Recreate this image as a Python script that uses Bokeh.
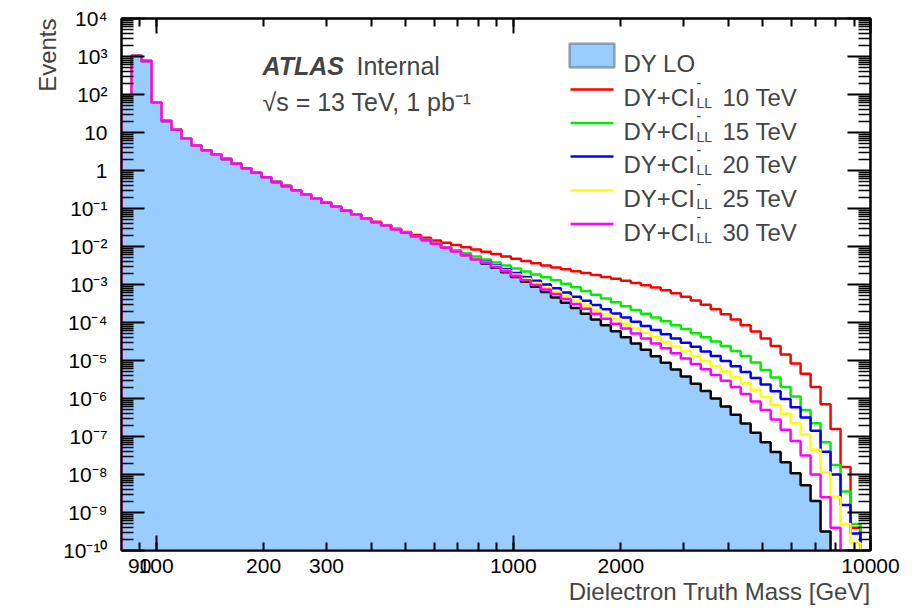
import math
import numpy as np
from bokeh.plotting import figure
from bokeh.models import (Range1d, FixedTicker, CustomJSTickFormatter, LogAxis,
                          Label, BoxAnnotation, Title)
from bokeh.embed import file_html
from bokeh.resources import INLINE

# ---------------- data ----------------
X_MIN, X_MAX = 80, 10000          # GeV, histogram range
N_BINS = 75                        # log-spaced bins
bin_edges = np.logspace(math.log10(X_MIN), math.log10(X_MAX), N_BINS + 1)

# log10(events per bin), DY LO (bins 0..70; empty beyond)
dy_lo_log10 = [
    1.95, 3.02, 2.88, 1.79, 1.30, 1.07, 0.84, 0.66, 0.53, 0.42,
    0.30, 0.18, 0.06, -0.06, -0.18, -0.30, -0.41, -0.52, -0.63, -0.74,
    -0.85, -0.95, -1.06, -1.16, -1.26, -1.36, -1.45, -1.55, -1.64, -1.74,
    -1.83, -1.93, -2.03, -2.13, -2.23, -2.34, -2.45, -2.56, -2.68, -2.80,
    -2.93, -3.06, -3.20, -3.34, -3.48, -3.62, -3.77, -3.92, -4.07, -4.23,
    -4.39, -4.55, -4.72, -4.89, -5.06, -5.24, -5.42, -5.61, -5.80, -6.00,
    -6.21, -6.43, -6.66, -6.90, -7.15, -7.41, -7.68, -7.97, -8.28, -8.70,
    -9.50,
]

# DY+CI tails (log10 events), identical to DY below their first bin
ci10_first_bin = 25
ci10_tail_log10 = [
    -1.35, -1.44, -1.53, -1.62, -1.70, -1.77, -1.84, -1.90, -1.96, -2.02,
    -2.08, -2.14, -2.20, -2.26, -2.32, -2.38, -2.44, -2.50, -2.55, -2.60,
    -2.65, -2.70, -2.75, -2.80, -2.85, -2.90, -2.96, -3.02, -3.08, -3.15,
    -3.23, -3.32, -3.42, -3.53, -3.65, -3.78, -3.92, -4.07, -4.24, -4.42,
    -4.62, -4.84, -5.08, -5.35, -5.70, -6.15, -6.80, -7.80, -9.40,
]
ci15_first_bin = 33
ci15_tail_log10 = [
    -2.10, -2.18, -2.26, -2.34, -2.42, -2.50, -2.58, -2.66, -2.74, -2.81,
    -2.89, -2.98, -3.07, -3.17, -3.27, -3.37, -3.47, -3.57, -3.67, -3.77,
    -3.87, -3.97, -4.07, -4.17, -4.28, -4.39, -4.50, -4.62, -4.75, -4.88,
    -5.05, -5.25, -5.45, -5.70, -5.95, -6.30, -6.65, -7.15, -7.75, -8.45,
    -9.30,
]
ci20_first_bin = 36
ci20_tail_log10 = [
    -2.40, -2.50, -2.60, -2.70, -2.80, -2.90, -3.00, -3.10, -3.21, -3.32,
    -3.43, -3.54, -3.65, -3.76, -3.87, -3.98, -4.09, -4.20, -4.31, -4.42,
    -4.53, -4.64, -4.76, -4.88, -5.01, -5.15, -5.30, -5.46, -5.63, -5.81,
    -6.01, -6.23, -6.50, -6.85, -7.40, -8.00, -8.80, -9.55,
]
ci25_first_bin = 36
ci25_tail_log10 = [
    -2.42, -2.52, -2.63, -2.74, -2.85, -2.96, -3.07, -3.19, -3.31, -3.43,
    -3.55, -3.67, -3.79, -3.91, -4.03, -4.15, -4.27, -4.39, -4.51, -4.63,
    -4.75, -4.88, -5.01, -5.15, -5.29, -5.44, -5.60, -5.77, -5.96, -6.17,
    -6.40, -6.65, -6.95, -7.35, -7.95, -8.60, -9.30, -9.80,
]
ci30_first_bin = 36
ci30_tail_log10 = [
    -2.43, -2.54, -2.65, -2.77, -2.89, -3.01, -3.13, -3.25, -3.38, -3.51,
    -3.64, -3.77, -3.90, -4.03, -4.16, -4.29, -4.42, -4.55, -4.68, -4.81,
    -4.95, -5.09, -5.23, -5.38, -5.53, -5.70, -5.88, -6.08, -6.30, -6.55,
    -6.82, -7.12, -7.50, -8.00, -8.60, -9.40,
]

series_names = ["DY LO", "10 TeV", "15 TeV", "20 TeV", "25 TeV", "30 TeV"]
series_colors = ["#000000", "#FF0000", "#00EE00", "#0000FF", "#FFFF00", "#FF00FF"]
fill_color = "#99CCFF"

y_tick_values = [1e-10, 1e-9, 1e-8, 1e-7, 1e-6, 1e-5, 1e-4, 1e-3, 1e-2, 1e-1, 1, 10, 1e2, 1e3, 1e4]
y_tick_labels = ["10⁻¹⁰", "10⁻⁹", "10⁻⁸", "10⁻⁷", "10⁻⁶", "10⁻⁵", "10⁻⁴", "10⁻³",
                 "10⁻²", "10⁻¹", "1", "10", "10²", "10³", "10⁴"]
x_tick_values = [90, 100, 200, 300, 1000, 2000, 10000]
x_tick_labels = ["90", "100", "200", "300", "1000", "2000", "10000"]

# ---------------- build series ----------------
def full_series(first_bin, tail):
    return dy_lo_log10[:first_bin] + tail

log_series = [
    dy_lo_log10,
    full_series(ci10_first_bin, ci10_tail_log10),
    full_series(ci15_first_bin, ci15_tail_log10),
    full_series(ci20_first_bin, ci20_tail_log10),
    full_series(ci25_first_bin, ci25_tail_log10),
    full_series(ci30_first_bin, ci30_tail_log10),
]
events = [[10.0 ** v for v in s] for s in log_series]

FLOOR = 1e-13  # empty bins drop below the axis


def step_path(vals):
    xs, ys = [bin_edges[0]], [FLOOR]
    for i, v in enumerate(vals):
        xs += [bin_edges[i], bin_edges[i + 1]]
        ys += [v, v]
    xs.append(bin_edges[len(vals)])
    ys.append(FLOOR)
    return xs, ys


FONT = "Liberation Sans"

p = figure(x_axis_type="log", y_axis_type="log",
           x_range=Range1d(X_MIN, X_MAX), y_range=Range1d(1e-10, 1e4),
           frame_width=749, frame_height=532,
           min_border_left=121, min_border_right=46,
           min_border_top=18, min_border_bottom=58,
           output_backend="svg", toolbar_location=None,
           background_fill_color="white", border_fill_color="white")
p.xgrid.visible = False
p.ygrid.visible = False
p.outline_line_color = "black"
p.outline_line_width = 2

# ---------------- axes ----------------
x_unlabelled = [k * 100 for k in range(4, 10)] + [k * 1000 for k in range(3, 10)]
x_ticker = FixedTicker(ticks=sorted(x_tick_values + x_unlabelled),
                       minor_ticks=[100, 1000, 10000])
y_ticker = FixedTicker(ticks=y_tick_values,
                       minor_ticks=[k * d for d in y_tick_values[:-1] for k in range(2, 10)])

x_fmt = CustomJSTickFormatter(args=dict(vals=x_tick_values, labs=x_tick_labels), code="""
for (let i = 0; i < vals.length; i++) {
  if (Math.abs(tick - vals[i]) < 1e-6 * vals[i]) return labs[i];
}
return "";
""")
y_fmt = CustomJSTickFormatter(args=dict(vals=y_tick_values, labs=y_tick_labels), code="""
for (let i = 0; i < vals.length; i++) {
  if (Math.abs(Math.log10(tick) - Math.log10(vals[i])) < 1e-6) return labs[i];
}
return "";
""")
blank_fmt = CustomJSTickFormatter(code="return '';")


def style_x(ax, labels=True):
    ax.ticker = x_ticker
    ax.formatter = x_fmt if labels else blank_fmt
    ax.major_tick_in = 8
    ax.major_tick_out = 0
    ax.minor_tick_in = 15
    ax.minor_tick_out = 0
    ax.major_tick_line_width = 2
    ax.minor_tick_line_width = 2
    ax.axis_line_width = 2
    ax.major_label_text_font = FONT
    ax.major_label_text_font_size = "21px"
    ax.major_label_text_color = "black"
    ax.major_label_standoff = 8


def style_y(ax, labels=True):
    ax.ticker = y_ticker
    ax.formatter = y_fmt if labels else blank_fmt
    ax.major_tick_in = 23
    ax.major_tick_out = 0
    ax.minor_tick_in = 12
    ax.minor_tick_out = 0
    ax.major_tick_line_width = 2
    ax.minor_tick_line_width = 1.5
    ax.axis_line_width = 2
    ax.major_label_text_font = FONT
    ax.major_label_text_font_size = "21px"
    ax.major_label_text_color = "black"
    ax.major_label_standoff = 14


style_x(p.xaxis[0])
style_y(p.yaxis[0])
top_ax = LogAxis()
style_x(top_ax, labels=False)
p.add_layout(top_ax, "above")
right_ax = LogAxis()
style_y(right_ax, labels=False)
p.add_layout(right_ax, "right")

# axis titles (ROOT style: aligned to the far end of each axis)
p.add_layout(Title(text="Events", align="right", text_font=FONT, text_font_size="24px",
                   text_font_style="normal", standoff=0, offset=0), "left")
p.add_layout(Title(text="Dielectron Truth Mass [GeV]", align="right", text_font=FONT,
                   text_font_size="24px", text_font_style="normal", standoff=0,
                   offset=0), "below")

# ---------------- histograms ----------------
fx, fy = step_path(events[0])
p.patch(fx, fy, fill_color=fill_color, line_color=None)
for vals, col in zip(events, series_colors):
    xs, ys = step_path(vals)
    p.line(xs, ys, line_color=col, line_width=2.5)

# ---------------- texts (screen units relative to the frame) ----------------
p.add_layout(Label(x=141, y=485, text="ATLAS", x_units="screen", y_units="screen",
                   text_font=FONT, text_font_size="25px", text_font_style="bold italic",
                   text_baseline="alphabetic"))
p.add_layout(Label(x=235, y=485, text="Internal", x_units="screen", y_units="screen",
                   text_font=FONT, text_font_size="25px", text_baseline="alphabetic"))
p.add_layout(Label(x=141, y=449, text="√s = 13 TeV, 1 pb⁻¹", x_units="screen",
                   y_units="screen", text_font=FONT, text_font_size="25px",
                   text_baseline="alphabetic"))

# ---------------- legend ----------------
row_y = [495, 461, 427.5, 394, 360, 326.5]   # row centres (screen units)
box_l, box_r = 448, 493
text_x = 502
p.add_layout(BoxAnnotation(left=box_l, right=box_r, top=row_y[0] + 12, bottom=row_y[0] - 12,
                           left_units="screen", right_units="screen",
                           top_units="screen", bottom_units="screen",
                           fill_color=fill_color, fill_alpha=1.0,
                           line_color="black", line_width=2.5))
p.add_layout(Label(x=text_x, y=row_y[0] - 8.3, text=series_names[0], x_units="screen",
                   y_units="screen", text_font=FONT, text_font_size="24px",
                   text_baseline="alphabetic"))
for k in range(1, 6):
    yc = row_y[k]
    p.add_layout(BoxAnnotation(left=box_l + 1, right=box_r - 1, top=yc + 1.3, bottom=yc - 1.3,
                               left_units="screen", right_units="screen",
                               top_units="screen", bottom_units="screen",
                               fill_color=series_colors[k], fill_alpha=1.0, line_color=None))
    p.add_layout(Label(x=text_x, y=yc - 8.3, text="DY+CI", x_units="screen", y_units="screen",
                       text_font=FONT, text_font_size="24px", text_baseline="alphabetic"))
    p.add_layout(Label(x=text_x + 73, y=yc - 13.5, text="LL", x_units="screen", y_units="screen",
                       text_font=FONT, text_font_size="14px", text_baseline="alphabetic"))
    p.add_layout(Label(x=text_x + 73, y=yc + 7, text="-", x_units="screen", y_units="screen",
                       text_font=FONT, text_font_size="14px", text_baseline="alphabetic"))
    p.add_layout(Label(x=text_x + 99, y=yc - 8.3, text=series_names[k], x_units="screen",
                       y_units="screen", text_font=FONT, text_font_size="24px",
                       text_baseline="alphabetic"))

open("out.html", "w").write(file_html(p, INLINE))
